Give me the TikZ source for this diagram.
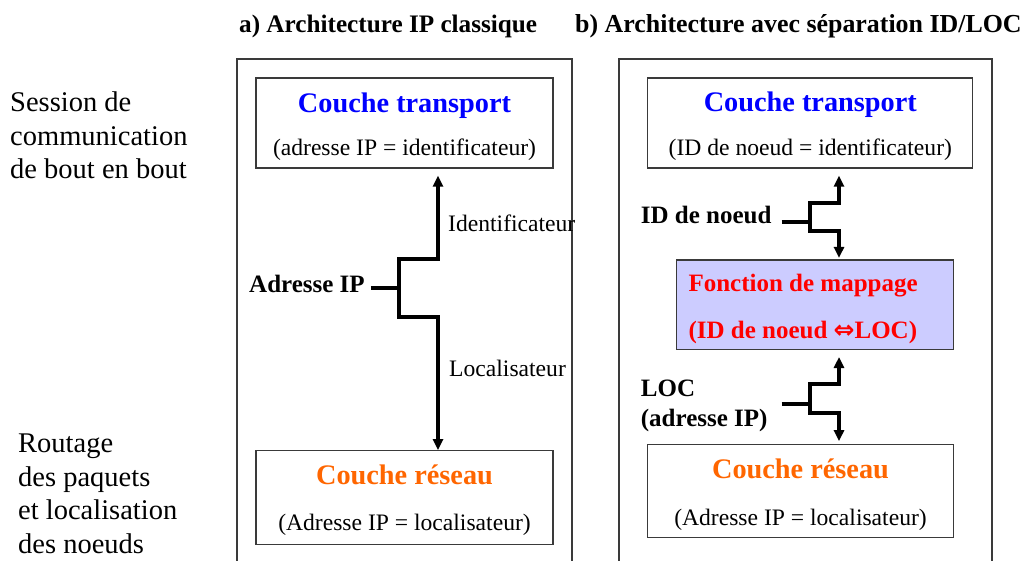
\documentclass[tikz,border=0pt]{standalone}
\usepackage{fontspec}
\setmainfont{Liberation Serif}
\newfontfamily\symfont{DejaVu Sans}
\usetikzlibrary{arrows.meta}
\definecolor{tblue}{HTML}{0000FF}
\definecolor{torange}{HTML}{FF6600}
\definecolor{tred}{HTML}{FF0000}
\definecolor{mapfill}{HTML}{CCCCFF}
\definecolor{edge}{HTML}{3A3A3A}
\newcommand{\titlef}{\fontsize{28.3}{34}\selectfont\bfseries}
\newcommand{\subf}{\fontsize{23.6}{28}\selectfont}
\newcommand{\lblf}{\fontsize{25}{30}\selectfont\bfseries}
\newcommand{\headf}{\fontsize{25.2}{30}\selectfont\bfseries}
\newcommand{\sidef}{\fontsize{28.5}{33.4}\selectfont}
\begin{document}
\begin{tikzpicture}[x=1pt,y=-1pt,
  frame/.style={draw=edge,line width=1.3pt},
  layer/.style={draw=edge,line width=1.3pt,inner sep=0pt,fill=white},
  txt/.style={inner sep=0pt,anchor=base},
  lbl/.style={inner sep=0pt,anchor=base west},
  wire/.style={line width=3.3pt,black},
  arr/.style={wire,-{Triangle[length=11pt,width=10pt]}}]
\useasboundingbox (0,0) rectangle (1022,561);

% side captions (anchored on the baseline of their last line)
\node[lbl,align=left,font=\sidef] (sess) at (10,178.5) {Session de\\communication\\de bout en bout};
\node[lbl,align=left,font=\sidef] (rout) at (18,553) {Routage\\des paquets\\et localisation\\des noeuds};

% column headings
\node[lbl,font=\headf] (ha) at (239,33) {a) Architecture IP classique};
\node[lbl,font=\headf,font=\fontsize{25.9}{30}\selectfont\bfseries] (hb) at (575,33) {b) Architecture avec séparation ID/LOC};

% column frames (open at the bottom)
\draw[frame] (237,570) |- (572,59) -- (572,570);
\draw[frame] (619,570) |- (992,59) -- (992,570);

% ---- a) classic IP architecture
\node[layer,minimum width=297pt,minimum height=90pt] (ltr) at (404.5,123) {};
\node[txt,font=\titlef,text=tblue] (ltr-t) at (404.5,112.5) {Couche transport};
\node[txt,font=\subf] (ltr-s) at (404.5,155.5) {(adresse IP = identificateur)};

\node[layer,minimum width=297pt,minimum height=93.5pt] (lnw) at (404.5,497.5) {};
\node[txt,font=\titlef,text=torange] (lnw-t) at (404.5,484) {Couche réseau};
\node[txt,font=\subf] (lnw-s) at (404.5,530) {(Adresse IP = localisateur)};

\node[lbl,font=\lblf] (adr) at (249,292) {Adresse IP};
\node[lbl,font=\subf] (idf) at (448,231.5) {Identificateur};
\node[lbl,font=\subf] (loc) at (449,376) {Localisateur};

\coordinate (ja) at (399,288);
\coordinate (ua) at (438,259);
\coordinate (da) at (438,317);
\draw[wire,shorten <=6pt] (adr.east |- ja) -- (ja);
\draw[arr,shorten >=7pt] (ja) |- (ua) -- (ua |- ltr.south);
\draw[arr] (ja) |- (da) -- (da |- lnw.north);

% ---- b) ID/LOC split architecture
\node[layer,minimum width=325pt,minimum height=90pt] (rtr) at (810.3,123) {};
\node[txt,font=\titlef,text=tblue] (rtr-t) at (810.3,111.5) {Couche transport};
\node[txt,font=\subf] (rtr-s) at (810.3,156) {(ID de noeud = identificateur)};

\node[layer,fill=mapfill,minimum width=276.6pt,minimum height=89.3pt] (map) at (815,304.7) {};
\node[lbl,font=\lblf,text=tred] (map-t) at (688.3,291.7) {Fonction de mappage};
\node[lbl,font=\lblf,text=tred] (map-s) at (688.3,338) {(ID de noeud {\symfont\bfseries ⇔}LOC)};

\node[layer,minimum width=305.6pt,minimum height=93.4pt] (rnw) at (800.5,491) {};
\node[txt,font=\titlef,text=torange] (rnw-t) at (800.5,478) {Couche réseau};
\node[txt,font=\subf] (rnw-s) at (800.5,525.7) {(Adresse IP = localisateur)};

\node[lbl,font=\lblf] (idn) at (640.7,223.3) {ID de noeud};
\node[lbl,font=\lblf,align=left] (lc) at (640.7,426) {LOC\\(adresse IP)};

\coordinate (jb) at (810,222);
\coordinate (ub) at (839,203);
\coordinate (db) at (839,231);
\draw[wire,shorten <=10pt] (idn.east |- jb) -- (jb);
\draw[arr,shorten >=7pt] (jb) |- (ub) -- (ub |- rtr.south);
\draw[arr,shorten >=1.5pt] (jb) |- (db) -- (db |- map.north);

\coordinate (jc) at (810,404);
\coordinate (uc) at (839,384);
\coordinate (dc) at (839,413);
\draw[wire,shorten <=14pt] (lc.east |- jc) -- (jc);
\draw[arr,shorten >=7pt] (jc) |- (uc) -- (uc |- map.south);
\draw[arr,shorten >=2.5pt] (jc) |- (dc) -- (dc |- rnw.north);
\end{tikzpicture}
\end{document}
